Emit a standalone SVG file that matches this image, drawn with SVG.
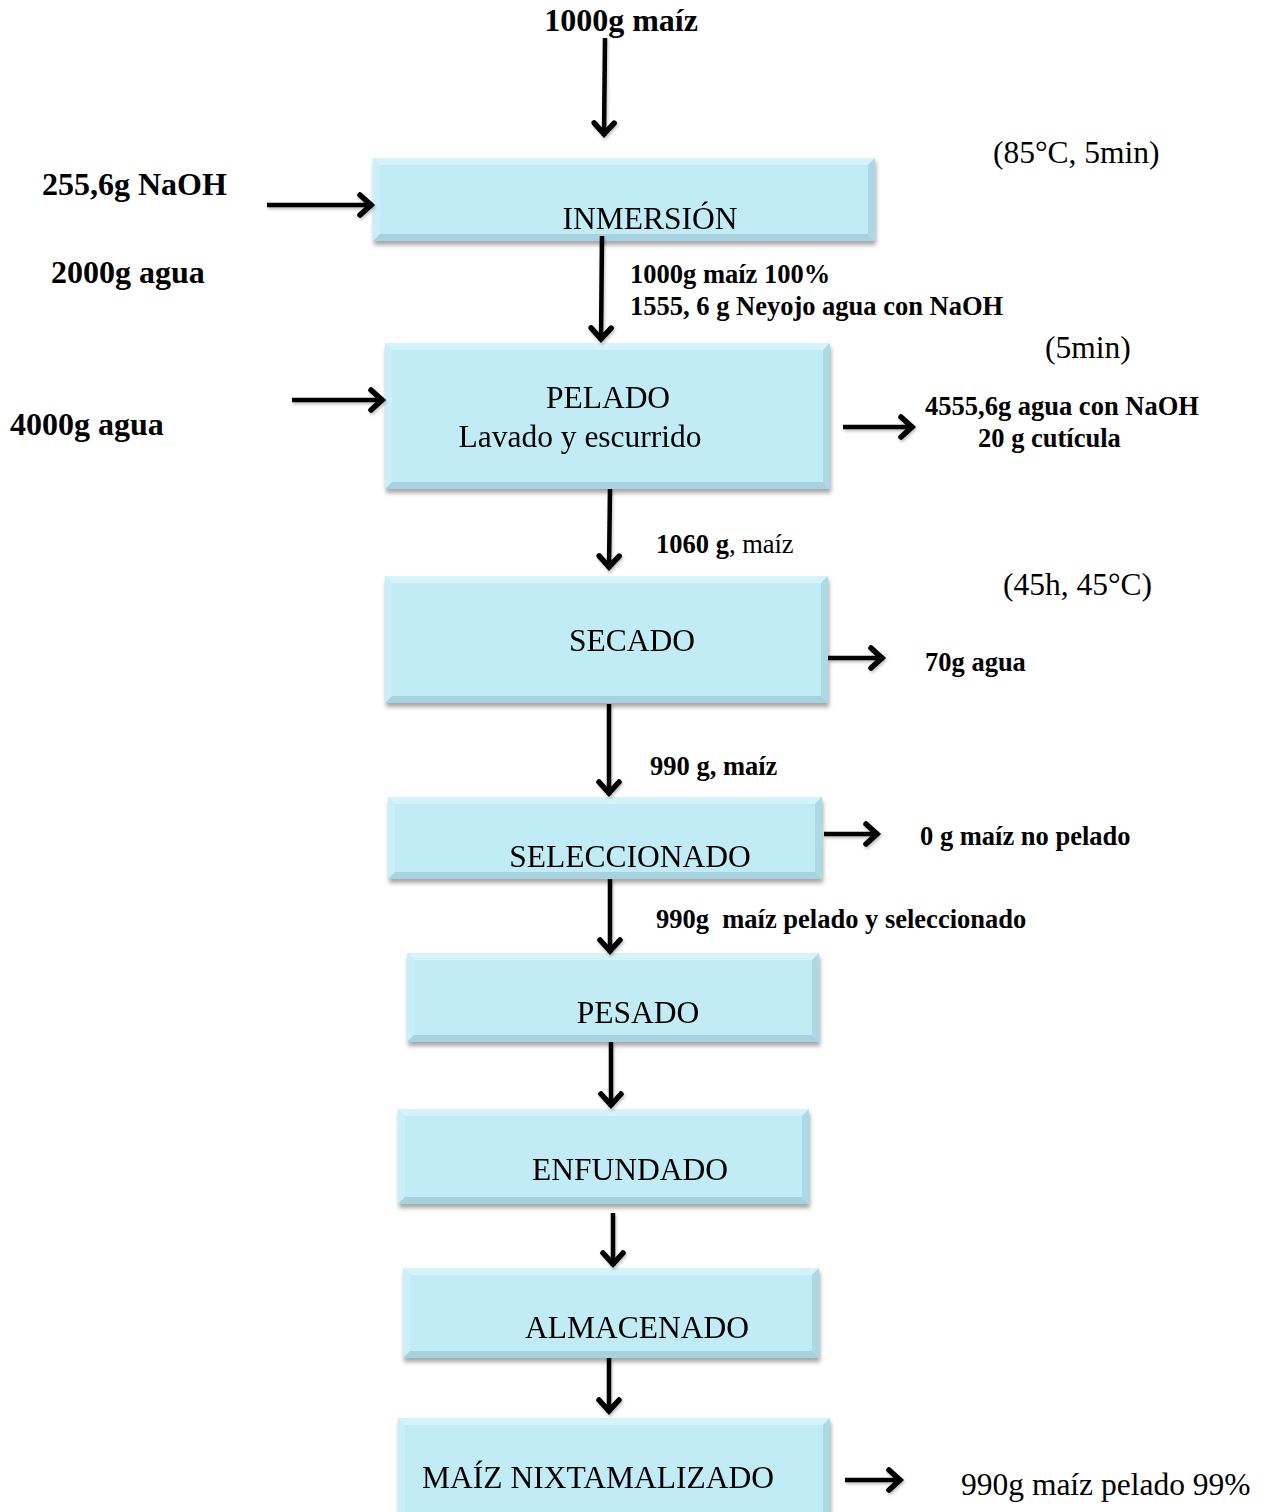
<svg xmlns="http://www.w3.org/2000/svg" width="1266" height="1512" viewBox="0 0 1266 1512">
  <defs>
    <filter id="shadow" x="-5%" y="-10%" width="110%" height="130%">
      <feDropShadow dx="1" dy="4" stdDeviation="2" flood-color="#000" flood-opacity="0.35"/>
    </filter>
    <filter id="lineShadow" x="-20%" y="-20%" width="140%" height="140%">
      <feDropShadow dx="1" dy="2" stdDeviation="1.5" flood-color="#000" flood-opacity="0.25"/>
    </filter>
    <marker id="ah" markerUnits="userSpaceOnUse" viewBox="-20 -15 24 30" markerWidth="24" markerHeight="30" refX="0" refY="0" orient="auto">
      <path d="M-13,-10 L-2,0 L-13,10" fill="none" stroke="#000" stroke-width="5.5" stroke-linecap="round"/>
    </marker>
    <style>
      .face { fill: #c1ebf5; }
      .hl { fill: #d4f3fa; }
      .hl2 { fill: #cbeff8; }
      .dk { fill: #abd9e5; }
      .dk2 { fill: #a6d3df; }
      .box { filter: url(#shadow); }
      .label { font-family: "Liberation Serif", "Times New Roman", serif; fill: #000; }
      .boxtxt { font-size: 31.5px; text-anchor: middle; }
      .big { font-size: 31.5px; }
      .bigb { font-size: 32px; font-weight: bold; }
      .smb { font-size: 26.5px; font-weight: bold; }
      .sm { font-size: 26.5px; }
      .conn line { stroke: #000; stroke-width: 4.5; marker-end: url(#ah); }
    </style>
  </defs>

  <rect width="1266" height="1512" fill="#fff"/>

  <!-- process steps -->
  <g id="inmersion" class="box">
    <rect class="face" x="373" y="158" width="502" height="83"/>
    <polygon class="hl" points="373,158 875,158 868,165 380,165"/>
    <polygon class="hl2" points="373,158 380,165 380,234 373,241"/>
    <polygon class="dk" points="875,158 875,241 868,234 868,165"/>
    <polygon class="dk2" points="373,241 875,241 868,234 380,234"/>
    <text class="label boxtxt" x="650" y="229">INMERSIÓN</text>
  </g>

  <g id="pelado" class="box">
    <rect class="face" x="385" y="343" width="445" height="146"/>
    <polygon class="hl" points="385,343 830,343 823,350 392,350"/>
    <polygon class="hl2" points="385,343 392,350 392,482 385,489"/>
    <polygon class="dk" points="830,343 830,489 823,482 823,350"/>
    <polygon class="dk2" points="385,489 830,489 823,482 392,482"/>
    <text class="label boxtxt" x="608" y="408">PELADO</text>
    <text class="label boxtxt" x="580" y="447">Lavado y escurrido</text>
  </g>

  <g id="secado" class="box">
    <rect class="face" x="385" y="576" width="443" height="127"/>
    <polygon class="hl" points="385,576 828,576 821,583 392,583"/>
    <polygon class="hl2" points="385,576 392,583 392,696 385,703"/>
    <polygon class="dk" points="828,576 828,703 821,696 821,583"/>
    <polygon class="dk2" points="385,703 828,703 821,696 392,696"/>
    <text class="label boxtxt" x="632" y="651">SECADO</text>
  </g>

  <g id="seleccionado" class="box">
    <rect class="face" x="388" y="797" width="434" height="82"/>
    <polygon class="hl" points="388,797 822,797 815,804 395,804"/>
    <polygon class="hl2" points="388,797 395,804 395,872 388,879"/>
    <polygon class="dk" points="822,797 822,879 815,872 815,804"/>
    <polygon class="dk2" points="388,879 822,879 815,872 395,872"/>
    <text class="label boxtxt" x="630" y="867">SELECCIONADO</text>
  </g>

  <g id="pesado" class="box">
    <rect class="face" x="407" y="953" width="412" height="89"/>
    <polygon class="hl" points="407,953 819,953 812,960 414,960"/>
    <polygon class="hl2" points="407,953 414,960 414,1035 407,1042"/>
    <polygon class="dk" points="819,953 819,1042 812,1035 812,960"/>
    <polygon class="dk2" points="407,1042 819,1042 812,1035 414,1035"/>
    <text class="label boxtxt" x="638" y="1023">PESADO</text>
  </g>

  <g id="enfundado" class="box">
    <rect class="face" x="398" y="1109" width="411" height="95"/>
    <polygon class="hl" points="398,1109 809,1109 802,1116 405,1116"/>
    <polygon class="hl2" points="398,1109 405,1116 405,1197 398,1204"/>
    <polygon class="dk" points="809,1109 809,1204 802,1197 802,1116"/>
    <polygon class="dk2" points="398,1204 809,1204 802,1197 405,1197"/>
    <text class="label boxtxt" x="630" y="1180">ENFUNDADO</text>
  </g>

  <g id="almacenado" class="box">
    <rect class="face" x="403" y="1268" width="416" height="90"/>
    <polygon class="hl" points="403,1268 819,1268 812,1275 410,1275"/>
    <polygon class="hl2" points="403,1268 410,1275 410,1351 403,1358"/>
    <polygon class="dk" points="819,1268 819,1358 812,1351 812,1275"/>
    <polygon class="dk2" points="403,1358 819,1358 812,1351 410,1351"/>
    <text class="label boxtxt" x="637" y="1338">ALMACENADO</text>
  </g>

  <g id="maiz-nixtamalizado" class="box">
    <rect class="face" x="398" y="1418" width="432" height="104"/>
    <polygon class="hl" points="398,1418 830,1418 823,1425 405,1425"/>
    <polygon class="hl2" points="398,1418 405,1425 405,1522 398,1522"/>
    <polygon class="dk" points="830,1418 830,1522 823,1522 823,1425"/>
    <text class="label boxtxt" x="598" y="1488">MAÍZ NIXTAMALIZADO</text>
  </g>

  <!-- flow arrows -->
  <g id="connectors" class="conn" filter="url(#lineShadow)">
    <line x1="605" y1="38" x2="604" y2="136"/>
    <line x1="267" y1="205" x2="373" y2="205"/>
    <line x1="602" y1="236" x2="601" y2="341"/>
    <line x1="292" y1="400" x2="384" y2="400"/>
    <line x1="843" y1="427" x2="914" y2="427"/>
    <line x1="610" y1="489" x2="609" y2="569"/>
    <line x1="828" y1="658" x2="884" y2="658"/>
    <line x1="609" y1="704" x2="609" y2="795"/>
    <line x1="824" y1="834" x2="879" y2="834"/>
    <line x1="610" y1="879" x2="610" y2="953"/>
    <line x1="611" y1="1042" x2="611" y2="1107"/>
    <line x1="613" y1="1213" x2="613" y2="1266"/>
    <line x1="609" y1="1358" x2="609" y2="1413"/>
    <line x1="845" y1="1480" x2="902" y2="1480"/>
  </g>

  <!-- stream quantities and conditions -->
  <g id="labels" class="label">
    <text class="bigb" x="621" y="31" text-anchor="middle">1000g maíz</text>
    <text class="big" x="993" y="163">(85°C, 5min)</text>
    <text class="bigb" x="42" y="195">255,6g NaOH</text>
    <text class="bigb" x="51" y="283">2000g agua</text>
    <text class="smb" x="630" y="283">1000g maíz 100%</text>
    <text class="smb" x="630" y="315">1555, 6 g Neyojo agua con NaOH</text>
    <text class="big" x="1045" y="358">(5min)</text>
    <text class="bigb" x="10" y="435">4000g agua</text>
    <text class="smb" x="925" y="415">4555,6g agua con NaOH</text>
    <text class="smb" x="978" y="447">20 g cutícula</text>
    <text x="656" y="553" class="sm"><tspan font-weight="bold">1060 g</tspan>, maíz</text>
    <text class="big" x="1003" y="595">(45h, 45°C)</text>
    <text class="smb" x="925" y="671">70g agua</text>
    <text class="smb" x="650" y="775">990 g, maíz</text>
    <text class="smb" x="920" y="845">0 g maíz no pelado</text>
    <text class="smb" x="656" y="928" xml:space="preserve">990g  maíz pelado y seleccionado</text>
    <text class="big" x="961" y="1495">990g maíz pelado 99%</text>
  </g>
</svg>
